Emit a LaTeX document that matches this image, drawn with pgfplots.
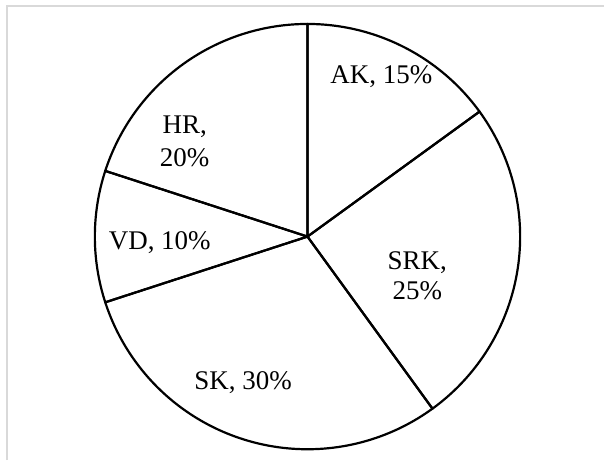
\documentclass[border=0pt]{standalone}
\usepackage{pgfplots}
\usepackage{pgfplotstable}
\usepackage{fontspec}
\setmainfont{Liberation Serif}
\pgfplotsset{compat=1.18}
\definecolor{framegray}{HTML}{D9D9D9}
\pgfplotstableread{
label pct
AK 15
SRK 25
SK 30
VD 10
HR 20
}\piedata
\tikzset{lbl/.style={anchor=base, inner sep=0pt, font=\fontsize{27bp}{32bp}\selectfont}}
\begin{document}
\begin{tikzpicture}
\begin{axis}[
  scale only axis, width=605bp, height=461bp,
  xmin=0, xmax=605, ymin=0, ymax=461,
  hide axis, clip=false,
]
\addplot[draw=none, forget plot] coordinates {(0,0) (605,461)};
\addplot[framegray, line width=2bp, forget plot] coordinates {(7,0) (7,454.5) (605,454.5)};
\def\cum{0}
\pgfplotsforeachungrouped \i in {0,...,4}{%
  \pgfplotstablegetelem{\i}{pct}\of\piedata
  \let\v\pgfplotsretval
  \pgfmathsetmacro\a{90-3.6*\cum}%
  \pgfmathsetmacro\b{90-3.6*(\cum+\v)}%
  \pgfmathsetmacro\cum{\cum+\v}%
  \xdef\cum{\cum}%
  \edef\doplot{\noexpand\addplot[black, line width=2.2bp, line join=round, domain=\b:\a, samples=90, forget plot] ({308+213*cos(x)},{224+213*sin(x)}) -- (axis cs:308,224) -- cycle;}%
  \doplot
}
\node[lbl] at (axis cs:382,377) {AK, 15\%};
\node[lbl] at (axis cs:418,191) {SRK,};
\node[lbl] at (axis cs:418,161) {25\%};
\node[lbl] at (axis cs:243.5,71) {SK, 30\%};
\node[lbl] at (axis cs:160,211) {VD, 10\%};
\node[lbl] at (axis cs:185,327) {HR,};
\node[lbl] at (axis cs:185,294) {20\%};
\end{axis}
\end{tikzpicture}
\end{document}
